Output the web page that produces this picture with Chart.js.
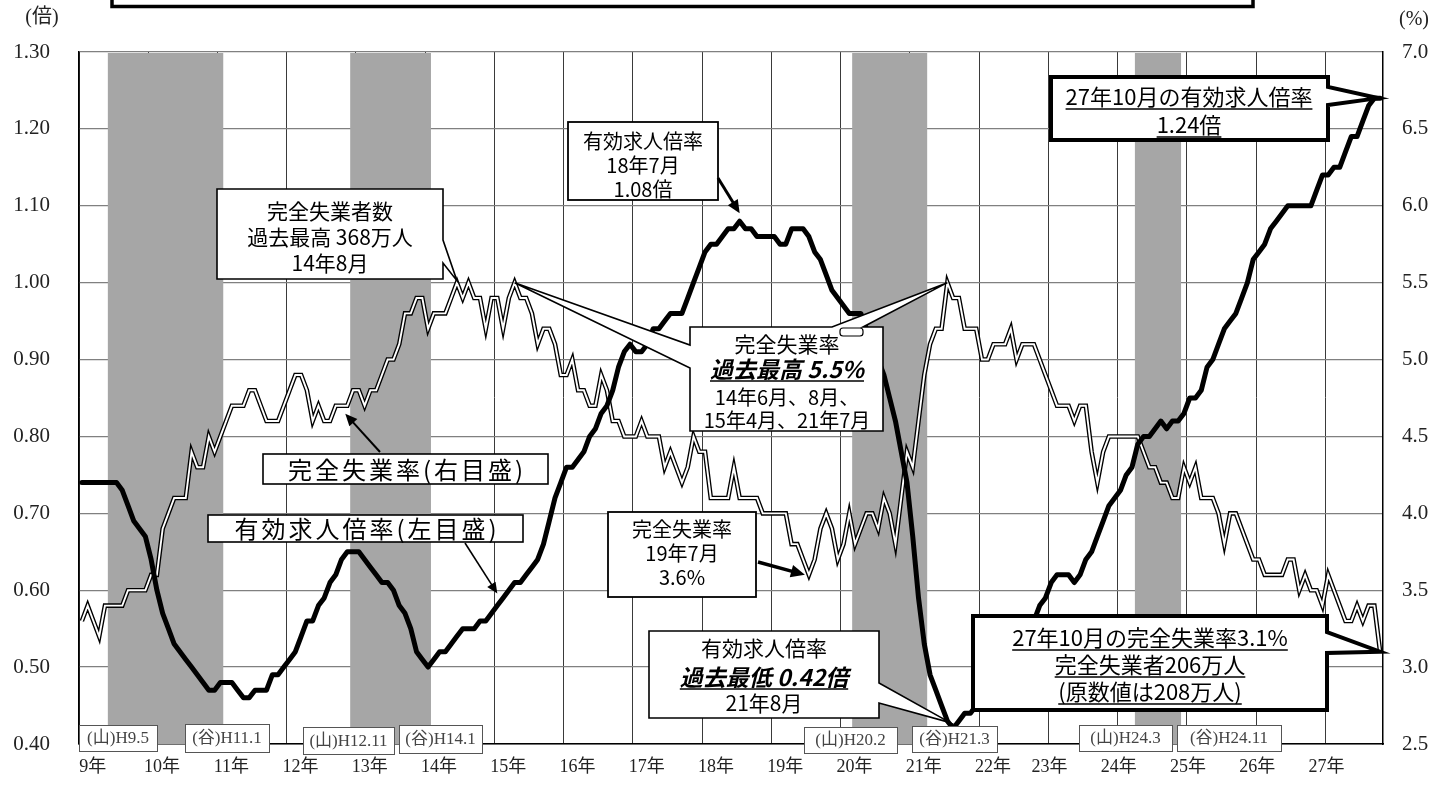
<!DOCTYPE html>
<html lang="ja">
<head>
<meta charset="utf-8">
<title>有効求人倍率と完全失業率の推移</title>
<script src="https://cdn.jsdelivr.net/npm/chart.js@4.4.1/dist/chart.umd.min.js"></script>
<style>
html,body{margin:0;padding:0;background:#fff;overflow:hidden;}
canvas{display:block;}
</style>
</head>
<body>
<canvas id="chart" width="1447" height="787"></canvas>
<script>
// ================= DATA =================
// Months: H9(1997).1 ... H27(2015).10  (226 months, index 0..225)
const yearLabels = ['9年','10年','11年','12年','13年','14年','15年','16年','17年','18年',
                    '19年','20年','21年','22年','23年','24年','25年','26年','27年'];

// 有効求人倍率 (left scale, 倍)
const jobsRatio = [
  0.74,0.74,0.74,0.74,0.74,0.74,0.74,0.73,0.71,0.69,0.68,0.67, // H9
  0.64,0.60,0.57,0.55,0.53,0.52,0.51,0.50,0.49,0.48,0.47,0.47, // H10
  0.48,0.48,0.48,0.47,0.46,0.46,0.47,0.47,0.47,0.49,0.49,0.50, // H11
  0.51,0.52,0.54,0.56,0.56,0.58,0.59,0.61,0.62,0.64,0.65,0.65, // H12
  0.65,0.64,0.63,0.62,0.61,0.61,0.60,0.58,0.57,0.55,0.52,0.51, // H13
  0.50,0.51,0.52,0.52,0.53,0.54,0.55,0.55,0.55,0.56,0.56,0.57, // H14
  0.58,0.59,0.60,0.61,0.61,0.62,0.63,0.64,0.66,0.69,0.72,0.74, // H15
  0.76,0.76,0.77,0.78,0.80,0.81,0.83,0.84,0.86,0.89,0.91,0.92, // H16
  0.91,0.91,0.92,0.94,0.94,0.95,0.96,0.96,0.96,0.98,1.00,1.02, // H17
  1.04,1.05,1.05,1.06,1.07,1.07,1.08,1.07,1.07,1.06,1.06,1.06, // H18
  1.06,1.05,1.05,1.07,1.07,1.07,1.06,1.04,1.03,1.01,0.99,0.98, // H19
  0.97,0.96,0.96,0.96,0.94,0.92,0.90,0.88,0.85,0.82,0.78,0.74, // H20
  0.67,0.59,0.53,0.49,0.47,0.45,0.43,0.42,0.43,0.44,0.44,0.45, // H21
  0.46,0.47,0.48,0.49,0.50,0.51,0.52,0.54,0.55,0.56,0.58,0.59, // H22
  0.61,0.62,0.62,0.62,0.61,0.62,0.64,0.65,0.67,0.69,0.71,0.72, // H23
  0.73,0.75,0.76,0.79,0.80,0.80,0.81,0.82,0.81,0.82,0.82,0.83, // H24
  0.85,0.85,0.86,0.89,0.90,0.92,0.94,0.95,0.96,0.98,1.00,1.03, // H25
  1.04,1.05,1.07,1.08,1.09,1.10,1.10,1.10,1.10,1.10,1.12,1.14, // H26
  1.14,1.15,1.15,1.17,1.19,1.19,1.21,1.23,1.24,1.24            // H27
];

// 完全失業率 (right scale, %)
const unemploymentRate = [
  3.3,3.4,3.3,3.2,3.4,3.4,3.4,3.4,3.5,3.5,3.5,3.5, // H9
  3.6,3.6,3.9,4.0,4.1,4.1,4.1,4.4,4.3,4.3,4.5,4.4, // H10
  4.5,4.6,4.7,4.7,4.7,4.8,4.8,4.7,4.6,4.6,4.6,4.7, // H11
  4.8,4.9,4.9,4.8,4.6,4.7,4.6,4.6,4.7,4.7,4.7,4.8, // H12
  4.8,4.7,4.8,4.8,4.9,5.0,5.0,5.1,5.3,5.3,5.4,5.4, // H13
  5.2,5.3,5.3,5.3,5.4,5.5,5.4,5.5,5.4,5.4,5.2,5.4, // H14
  5.4,5.2,5.4,5.5,5.4,5.4,5.3,5.1,5.2,5.2,5.1,4.9, // H15
  4.9,5.0,4.8,4.8,4.7,4.7,4.9,4.8,4.6,4.6,4.5,4.5, // H16
  4.5,4.6,4.5,4.5,4.5,4.3,4.4,4.3,4.2,4.3,4.5,4.4, // H17
  4.4,4.1,4.1,4.1,4.1,4.3,4.1,4.1,4.1,4.1,4.0,4.0, // H18
  4.0,4.0,4.0,3.8,3.8,3.7,3.6,3.7,3.9,4.0,3.9,3.7, // H19
  3.8,4.0,3.8,3.9,4.0,4.0,3.9,4.1,4.0,3.8,4.1,4.4, // H20
  4.3,4.6,4.9,5.1,5.2,5.2,5.5,5.4,5.4,5.2,5.2,5.2, // H21
  5.0,5.0,5.1,5.1,5.1,5.2,5.0,5.1,5.1,5.1,5.0,4.9, // H22
  4.8,4.7,4.7,4.7,4.6,4.7,4.7,4.4,4.2,4.4,4.5,4.5, // H23
  4.5,4.5,4.5,4.5,4.4,4.3,4.3,4.2,4.2,4.1,4.1,4.3, // H24
  4.2,4.3,4.1,4.1,4.1,4.0,3.8,4.0,4.0,3.9,3.8,3.7, // H25
  3.7,3.6,3.6,3.6,3.6,3.7,3.7,3.5,3.6,3.5,3.5,3.4, // H26
  3.6,3.5,3.4,3.3,3.3,3.4,3.3,3.4,3.4,3.1          // H27
];

const leftTicks  = [0.40,0.50,0.60,0.70,0.80,0.90,1.00,1.10,1.20,1.30];
const rightTicks = [2.5,3.0,3.5,4.0,4.5,5.0,5.5,6.0,6.5,7.0];

// 景気基準日付 (month index): 山 = peak, 谷 = trough
const recessionPeaks   = [4, 46, 133, 182];
const recessionTroughs = [24, 60, 146, 190];
const peakLabels   = ['(山)H9.5', '(山)H12.11', '(山)H20.2', '(山)H24.3'];
const troughLabels = ['(谷)H11.1', '(谷)H14.1', '(谷)H21.3', '(谷)H24.11'];

// ================= STYLE / LAYOUT =================
const SANS  = "'Noto Sans CJK JP','Noto Sans',sans-serif";
const SERIF = "'Liberation Serif','DejaVu Serif','Noto Sans CJK JP',serif";
const BAND_COLOR = '#a6a6a6';

const toPoints = arr => arr.map((v, i) => ({x: i, y: v}));
const lastIndex = unemploymentRate.length - 1;
// year boundaries (gridlines) and where each year label sits (in month units)
const yearBoundary = k => -0.5 + 12 * k;
const yearLabelPos = k => yearBoundary(k) + (k <= 13 ? 2.4 : 0.2);

function wedgeBox(ctx, r, wedges, lw) {
  const {x, y, w, h} = r;
  const on = s => wedges.filter(q => q.side === s);
  ctx.beginPath();
  ctx.moveTo(x, y);
  on('top').sort((a,b)=>a.a-b.a).forEach(q=>{ctx.lineTo(q.a,y);ctx.lineTo(q.tx,q.ty);ctx.lineTo(q.b,y);});
  ctx.lineTo(x+w, y);
  on('right').sort((a,b)=>a.a-b.a).forEach(q=>{ctx.lineTo(x+w,q.a);ctx.lineTo(q.tx,q.ty);ctx.lineTo(x+w,q.b);});
  ctx.lineTo(x+w, y+h);
  on('bottom').sort((a,b)=>b.a-a.a).forEach(q=>{ctx.lineTo(q.b,y+h);ctx.lineTo(q.tx,q.ty);ctx.lineTo(q.a,y+h);});
  ctx.lineTo(x, y+h);
  on('left').sort((a,b)=>b.a-a.a).forEach(q=>{ctx.lineTo(x,q.b);ctx.lineTo(q.tx,q.ty);ctx.lineTo(x,q.a);});
  ctx.closePath();
  ctx.fillStyle = '#fff'; ctx.fill();
  ctx.lineWidth = lw; ctx.strokeStyle = '#000'; ctx.lineJoin = 'miter'; ctx.stroke();
}

function textLines(ctx, cx, lines) {
  ctx.textAlign = 'center'; ctx.textBaseline = 'middle'; ctx.fillStyle = '#000';
  lines.forEach(L => {
    ctx.font = L.font;
    ctx.letterSpacing = L.ls || '0px';
    ctx.fillText(L.t, cx, L.y);
    if (L.u) {
      const w = ctx.measureText(L.t).width;
      ctx.lineWidth = 1.4; ctx.strokeStyle = '#000';
      ctx.beginPath(); ctx.moveTo(cx - w/2, L.y + L.u); ctx.lineTo(cx + w/2, L.y + L.u); ctx.stroke();
    }
  });
  ctx.letterSpacing = '0px';
}

function arrow(ctx, x1, y1, x2, y2, lw, head) {
  const a = Math.atan2(y2 - y1, x2 - x1);
  ctx.strokeStyle = '#000'; ctx.fillStyle = '#000'; ctx.lineWidth = lw; ctx.lineCap = 'butt';
  ctx.beginPath(); ctx.moveTo(x1, y1);
  ctx.lineTo(x2 - Math.cos(a) * head * 0.8, y2 - Math.sin(a) * head * 0.8); ctx.stroke();
  const hw = head * 0.45;
  ctx.beginPath(); ctx.moveTo(x2, y2);
  ctx.lineTo(x2 - head*Math.cos(a) + hw*Math.sin(a), y2 - head*Math.sin(a) - hw*Math.cos(a));
  ctx.lineTo(x2 - head*Math.cos(a) - hw*Math.sin(a), y2 - head*Math.sin(a) + hw*Math.cos(a));
  ctx.closePath(); ctx.fill();
}

function plainBox(ctx, x, y, w, h, lw) {
  ctx.fillStyle = '#fff'; ctx.fillRect(x, y, w, h);
  ctx.lineWidth = lw; ctx.strokeStyle = '#000'; ctx.strokeRect(x, y, w, h);
}

// recession bands, drawn above the grid but under the lines
const bandsPlugin = {
  id: 'bands',
  beforeDatasetsDraw(chart) {
    const {ctx, chartArea: ca, scales: {x}} = chart;
    ctx.save();
    ctx.fillStyle = BAND_COLOR;
    recessionPeaks.forEach((p, k) => {
      const x1 = x.getPixelForValue(p + 0.5);
      const x2 = x.getPixelForValue(recessionTroughs[k] + 0.5);
      ctx.fillRect(x1, ca.top + 1, x2 - x1, ca.bottom - ca.top - 1);
    });
    ctx.restore();
  }
};

// annotation boxes, callouts, arrows, axis unit labels
const notesPlugin = {
  id: 'notes',
  afterDraw(chart) {
    const {ctx, scales} = chart;
    const X  = i => scales.x.getPixelForValue(i);
    const YL = v => scales.y.getPixelForValue(v);
    const YR = v => scales.y2.getPixelForValue(v);
    ctx.save();

    // cut-off title frame at the very top
    ctx.lineWidth = 3.5; ctx.strokeStyle = '#000';
    ctx.strokeRect(112, -20, 1141, 26.5);

    // unit labels
    ctx.fillStyle = '#222'; ctx.textBaseline = 'middle';
    ctx.font = '20px ' + SERIF;
    ctx.textAlign = 'center';
    ctx.fillText('(倍)', 42, 18);
    ctx.fillText('(%)', 1414, 20);

    // 完全失業者数 過去最高 (callout to 14年 peak)
    wedgeBox(ctx, {x:217, y:189, w:226, h:90},
      [{side:'right', a:240, b:263, tx:X(65), ty:YR(unemploymentRate[65]) - 2}], 1.6);
    textLines(ctx, 330, [
      {t:'完全失業者数', font:'21px ' + SANS, y:211},
      {t:'過去最高 368万人', font:'21px ' + SANS, y:237},
      {t:'14年8月', font:'21px ' + SANS, y:263}
    ]);

    // 有効求人倍率 18年7月 1.08倍
    plainBox(ctx, 568, 122, 150, 78, 1.8);
    textLines(ctx, 643, [
      {t:'有効求人倍率', font:'20px ' + SANS, y:141},
      {t:'18年7月', font:'20px ' + SANS, y:165},
      {t:'1.08倍', font:'20px ' + SANS, y:189}
    ]);
    arrow(ctx, 718, 178, X(114), YL(jobsRatio[114]) - 8, 3, 13);

    // 完全失業率(右目盛)
    plainBox(ctx, 263, 454, 285, 30, 1.6);
    textLines(ctx, 407, [{t:'完全失業率(右目盛)', font:'24px ' + SANS, y:470, ls:'3px'}]);
    arrow(ctx, 380, 452, X(46) - 2, YR(unemploymentRate[46]) + 8, 2, 12);

    // 有効求人倍率(左目盛)
    plainBox(ctx, 208, 515, 315, 27, 1.6);
    textLines(ctx, 367, [{t:'有効求人倍率(左目盛)', font:'24px ' + SANS, y:529, ls:'3px'}]);
    arrow(ctx, 465, 543, X(72), YL(jobsRatio[72]) - 12, 1.6, 11);

    // 完全失業率 過去最高 5.5%
    wedgeBox(ctx, {x:690, y:327, w:193, h:104}, [
      {side:'left', a:345, b:368, tx:X(75), ty:YR(unemploymentRate[75])},
      {side:'top',  a:832, b:863, tx:X(150), ty:YR(unemploymentRate[150])}
    ], 1.6);
    ctx.fillStyle = '#fff'; ctx.strokeStyle = '#000'; ctx.lineWidth = 1.2;
    ctx.beginPath(); ctx.roundRect(840, 328, 23, 8, 3); ctx.fill(); ctx.stroke();
    textLines(ctx, 787, [
      {t:'完全失業率', font:'21px ' + SANS, y:344},
      {t:'過去最高 5.5%', font:'italic bold 23px ' + SANS, y:369, u:12},
      {t:'14年6月、8月、', font:'20px ' + SANS, y:397},
      {t:'15年4月、21年7月', font:'20px ' + SANS, y:420}
    ]);

    // 完全失業率 19年7月 3.6%
    plainBox(ctx, 608, 512, 148, 85, 1.8);
    textLines(ctx, 682, [
      {t:'完全失業率', font:'20px ' + SANS, y:529},
      {t:'19年7月', font:'20px ' + SANS, y:553},
      {t:'3.6%', font:'20px ' + SANS, y:577}
    ]);
    arrow(ctx, 758, 562, X(126) - 4, YR(unemploymentRate[126]), 3.5, 14);

    // 有効求人倍率 過去最低 0.42倍
    wedgeBox(ctx, {x:649, y:631, w:230, h:87},
      [{side:'right', a:683, b:703, tx:X(151) - 3, ty:YL(jobsRatio[151]) - 6}], 1.6);
    textLines(ctx, 764, [
      {t:'有効求人倍率', font:'21px ' + SANS, y:648},
      {t:'過去最低 0.42倍', font:'italic bold 23px ' + SANS, y:677, u:12},
      {t:'21年8月', font:'21px ' + SANS, y:703}
    ]);

    // 27年10月の有効求人倍率 1.24倍
    wedgeBox(ctx, {x:1051, y:77, w:277, h:63},
      [{side:'right', a:87, b:105, tx:X(lastIndex) - 2, ty:YL(jobsRatio[lastIndex])}], 4);
    textLines(ctx, 1189, [
      {t:'27年10月の有効求人倍率', font:'22px ' + SANS, y:97, u:12},
      {t:'1.24倍', font:'22px ' + SANS, y:125, u:12}
    ]);

    // 27年10月の完全失業率3.1%
    wedgeBox(ctx, {x:973, y:616, w:354, h:94},
      [{side:'right', a:632, b:653, tx:X(lastIndex), ty:YR(unemploymentRate[lastIndex])}], 4);
    textLines(ctx, 1150, [
      {t:'27年10月の完全失業率3.1%', font:'22px ' + SANS, y:638, u:12},
      {t:'完全失業者206万人', font:'22px ' + SANS, y:665, u:12},
      {t:'(原数値は208万人)', font:'22px ' + SANS, y:692, u:12}
    ]);

    // 景気の山・谷 labels along the bottom
    const peakBoxes   = [[79,725,78,26],[303,727,91,27],[804,727,93,26],[1079,725,93,26]];
    const troughBoxes = [[185,724,84,28],[399,725,83,28],[912,726,85,26],[1177,725,104,26]];
    const drawTag = (b, t) => {
      ctx.fillStyle = '#fff'; ctx.fillRect(b[0], b[1], b[2], b[3]);
      ctx.lineWidth = 1; ctx.strokeStyle = '#555'; ctx.strokeRect(b[0] + 0.5, b[1] + 0.5, b[2], b[3]);
      ctx.fillStyle = '#444'; ctx.font = '17px ' + SERIF; ctx.textAlign = 'center'; ctx.textBaseline = 'middle';
      ctx.fillText(t, b[0] + b[2] / 2, b[1] + b[3] / 2 + 1);
    };
    peakLabels.forEach((t, k) => drawTag(peakBoxes[k], t));
    troughLabels.forEach((t, k) => drawTag(troughBoxes[k], t));

    ctx.restore();
  }
};

new Chart(document.getElementById('chart'), {
  type: 'line',
  data: {
    datasets: [
      { label: '有効求人倍率', data: toPoints(jobsRatio), yAxisID: 'y',
        borderColor: '#000', borderWidth: 5, pointRadius: 0, tension: 0,
        borderJoinStyle: 'round', borderCapStyle: 'round', order: 0 },
      { label: '完全失業率', data: toPoints(unemploymentRate), yAxisID: 'y2',
        borderColor: '#fff', borderWidth: 1.9, pointRadius: 0, tension: 0,
        borderJoinStyle: 'miter', order: 1 },
      { label: '完全失業率(枠)', data: toPoints(unemploymentRate), yAxisID: 'y2',
        borderColor: '#000', borderWidth: 4.6, pointRadius: 0, tension: 0,
        borderJoinStyle: 'miter', order: 2 }
    ]
  },
  options: {
    responsive: false,
    animation: false,
    devicePixelRatio: 1,
    layout: { padding: { top: 52, left: 0, right: 0, bottom: 0 } },
    plugins: { legend: { display: false }, tooltip: { enabled: false } },
    scales: {
      // data axis: carries the yearly gridlines
      x: {
        type: 'linear', position: 'bottom', weight: 0,
        min: -0.5, max: lastIndex + 0.5,
        afterFit: s => { s.height = 0; },
        afterBuildTicks: s => { s.ticks = yearLabels.map((_, k) => ({ value: yearBoundary(k) })); },
        grid: { color: '#3a3a3a', lineWidth: 1, drawTicks: false },
        border: { display: true, color: '#000', width: 1.5 },
        ticks: { display: false }
      },
      // label axis: year names under the plot
      xl: {
        type: 'linear', position: 'bottom', weight: 1,
        min: -0.5, max: lastIndex + 0.5,
        afterFit: s => { s.height = 43; },
        afterBuildTicks: s => { s.ticks = yearLabels.map((_, k) => ({ value: yearLabelPos(k) })); },
        grid: { display: false, drawTicks: false },
        border: { display: false },
        ticks: {
          autoSkip: false, maxRotation: 0, align: 'center', padding: 12,
          color: '#222', font: { family: SERIF, size: 18 },
          callback: (v, i) => yearLabels[i]
        }
      },
      y: {
        position: 'left', min: leftTicks[0], max: leftTicks[leftTicks.length - 1],
        afterFit: s => { s.width = 79; },
        afterBuildTicks: s => { s.ticks = leftTicks.map(v => ({ value: v })); },
        grid: { color: '#808080', lineWidth: 1.3, drawTicks: false },
        border: { display: true, color: '#000', width: 1.5 },
        ticks: { padding: 29, color: '#222', font: { family: SERIF, size: 21 },
                 callback: v => v.toFixed(2) }
      },
      y2: {
        position: 'right', min: rightTicks[0], max: rightTicks[rightTicks.length - 1],
        afterFit: s => { s.width = 64; },
        afterBuildTicks: s => { s.ticks = rightTicks.map(v => ({ value: v })); },
        grid: { display: false, drawTicks: false },
        border: { display: true, color: '#000', width: 1.5 },
        ticks: { padding: 19, color: '#222', font: { family: SERIF, size: 21 },
                 callback: v => v.toFixed(1) }
      }
    }
  },
  plugins: [bandsPlugin, notesPlugin]
});
</script>
</body>
</html>
